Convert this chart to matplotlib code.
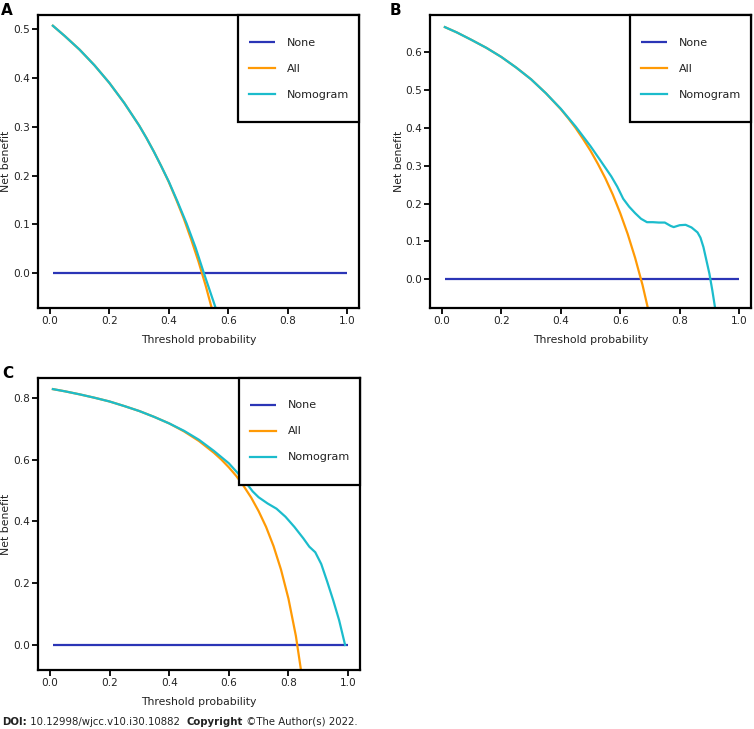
import numpy as np
import matplotlib
matplotlib.use("Agg")
import matplotlib.pyplot as plt
from matplotlib.patches import Rectangle

# colores de las curvas
col_none = "#2b35b6"
col_all = "#ff9a05"
col_nomo = "#1bbccc"

# Panel A
a_x_all = [0.01, 0.05, 0.10, 0.15, 0.20, 0.25, 0.30, 0.325, 0.35, 0.375, 0.40, 0.425, 0.45, 0.475, 0.50, 0.525, 0.55]
a_all = [0.507, 0.486, 0.458, 0.426, 0.390, 0.349, 0.303, 0.277, 0.249, 0.219, 0.187, 0.151, 0.113, 0.070, 0.024, -0.027, -0.084]
a_x_nomo = [0.01, 0.05, 0.10, 0.15, 0.20, 0.25, 0.30, 0.325, 0.35, 0.375, 0.40, 0.43, 0.46, 0.49, 0.52, 0.56]
a_nomo = [0.507, 0.486, 0.458, 0.426, 0.390, 0.349, 0.303, 0.277, 0.249, 0.219, 0.188, 0.146, 0.102, 0.053, -0.003, -0.075]

# Panel B
b_x_all = [0.01, 0.05, 0.10, 0.15, 0.20, 0.25, 0.30, 0.35, 0.40, 0.425, 0.45, 0.475, 0.50, 0.525, 0.55, 0.575, 0.60, 0.625, 0.65, 0.675, 0.70]
b_all = [0.667, 0.653, 0.633, 0.612, 0.588, 0.560, 0.529, 0.492, 0.450, 0.426, 0.400, 0.371, 0.340, 0.305, 0.267, 0.224, 0.175, 0.120, 0.057, -0.015, -0.100]
b_x_nomo = [0.01, 0.05, 0.10, 0.15, 0.20, 0.25, 0.30, 0.35, 0.40, 0.45, 0.50, 0.53, 0.55, 0.57, 0.59, 0.61, 0.63, 0.65, 0.67, 0.69,
            0.71, 0.73, 0.75, 0.77, 0.78, 0.80, 0.82, 0.84, 0.86, 0.87, 0.88, 0.89, 0.90, 0.91, 0.92]
b_nomo = [0.667, 0.653, 0.633, 0.612, 0.588, 0.560, 0.529, 0.492, 0.451, 0.404, 0.352, 0.318, 0.295, 0.272, 0.245, 0.213, 0.192, 0.175, 0.160, 0.151,
          0.151, 0.150, 0.150, 0.141, 0.138, 0.143, 0.144, 0.137, 0.124, 0.110, 0.085, 0.050, 0.015, -0.030, -0.080]

# Panel C
c_x_all = [0.01, 0.05, 0.10, 0.15, 0.20, 0.25, 0.30, 0.35, 0.40, 0.45, 0.50, 0.55, 0.575, 0.60, 0.625, 0.65, 0.675, 0.70, 0.725, 0.75, 0.775, 0.80, 0.825, 0.85]
c_all = [0.828, 0.821, 0.811, 0.800, 0.788, 0.773, 0.757, 0.738, 0.717, 0.691, 0.660, 0.622, 0.600, 0.575, 0.547, 0.514, 0.477, 0.433, 0.382, 0.320, 0.244, 0.150, 0.029, -0.133]
c_x_nomo = [0.01, 0.05, 0.10, 0.15, 0.20, 0.25, 0.30, 0.35, 0.40, 0.45, 0.50, 0.55, 0.60, 0.65, 0.68, 0.70, 0.73, 0.76, 0.79, 0.82,
            0.85, 0.87, 0.89, 0.91, 0.93, 0.95, 0.97, 0.99]
c_nomo = [0.828, 0.821, 0.811, 0.800, 0.788, 0.773, 0.757, 0.738, 0.717, 0.693, 0.664, 0.628, 0.588, 0.535, 0.497, 0.478, 0.458, 0.441, 0.415, 0.382,
          0.345, 0.318, 0.300, 0.262, 0.205, 0.145, 0.080, 0.000]

none_x = [0.01, 1.0]
none_y = [0.0, 0.0]

x_ticks = [0.0, 0.2, 0.4, 0.6, 0.8, 1.0]
labels = ["None", "All", "Nomogram"]

W, H = 754, 729
fig = plt.figure(figsize=(W / 100, H / 100), dpi=100)
plt.rcParams["font.family"] = "DejaVu Sans"
txt_col = "#222222"


def px_box(l, t, r, b):
    return [l / W, (H - b) / H, (r - l) / W, (b - t) / H]


def panel(rect, xa, ya, xn, yn, ylim, yticks, letter, letter_xy):
    ax = fig.add_axes(rect)
    ax.plot(none_x, none_y, color=col_none, lw=1.6, solid_capstyle="butt")
    ax.plot(xa, ya, color=col_all, lw=1.6)
    ax.plot(xn, yn, color=col_nomo, lw=1.6)
    ax.set_xlim(-0.04, 1.04)
    ax.set_ylim(*ylim)
    ax.set_xticks(x_ticks)
    ax.set_xticklabels(["%.1f" % v for v in x_ticks])
    ax.set_yticks(yticks)
    ax.set_yticklabels(["%.1f" % v for v in yticks])
    for s in ax.spines.values():
        s.set_linewidth(1.6)
    ax.tick_params(length=4, width=1.3, labelsize=7.6, pad=2, color="black", labelcolor=txt_col)
    axw = rect[2] * W
    axh = rect[3] * H
    ax.set_xlabel("Threshold probability", fontsize=7.8, color=txt_col)
    ax.set_ylabel("Net benefit", fontsize=7.8, color=txt_col)
    ax.xaxis.set_label_coords(0.5, -32 / axh)
    ax.yaxis.set_label_coords(-31.5 / axw, 0.5)
    ax.xaxis.label.set_va("center")
    ax.yaxis.label.set_va("center")

    # caja de la leyenda
    x0 = 1 - 121 / axw
    y0 = 1 - 107 / axh
    ax.add_patch(Rectangle((x0, y0), 1 - x0, 1 - y0, transform=ax.transAxes, facecolor="white",
                           edgecolor="black", lw=1.6, zorder=5, clip_on=False))
    leg = ax.legend(ax.get_lines(), labels, frameon=False, loc="upper left",
                    bbox_to_anchor=(x0 + 11 / axw, 1 - 22.5 / axh), borderaxespad=0, borderpad=0,
                    fontsize=8, handlelength=2.34, handletextpad=1.08, labelspacing=1.44)
    leg.set_zorder(6)
    for t in leg.get_texts():
        t.set_color(txt_col)
    fig.text(letter_xy[0] / W, 1 - letter_xy[1] / H, letter, fontsize=11, fontweight="bold",
             ha="left", va="top")
    return ax


panel(px_box(38, 15, 359, 308), a_x_all, a_all, a_x_nomo, a_nomo, (-0.071, 0.529),
      [0.0, 0.1, 0.2, 0.3, 0.4, 0.5], "A", (1, 3))
panel(px_box(430, 15, 751, 308), b_x_all, b_all, b_x_nomo, b_nomo, (-0.076, 0.699),
      [0.0, 0.1, 0.2, 0.3, 0.4, 0.5, 0.6], "B", (390, 3))
panel(px_box(38, 378, 360, 670), c_x_all, c_all, c_x_nomo, c_nomo, (-0.081, 0.864),
      [0.0, 0.2, 0.4, 0.6, 0.8], "C", (2, 366))

# pie de figura
parts = [("DOI:", "bold"), (" 10.12998/wjcc.v10.i30.10882  ", "normal"),
         ("Copyright", "bold"), (" \u00a9The Author(s) 2022.", "normal")]
fig.canvas.draw()
r = fig.canvas.get_renderer()
xpos = 2
for txt, w in parts:
    t = fig.text(xpos / W, 1 - 722 / H, txt, fontsize=7.3, fontweight=w, va="center", ha="left", color=txt_col)
    xpos += t.get_window_extent(r).width

fig.savefig("out.png", dpi=100)
